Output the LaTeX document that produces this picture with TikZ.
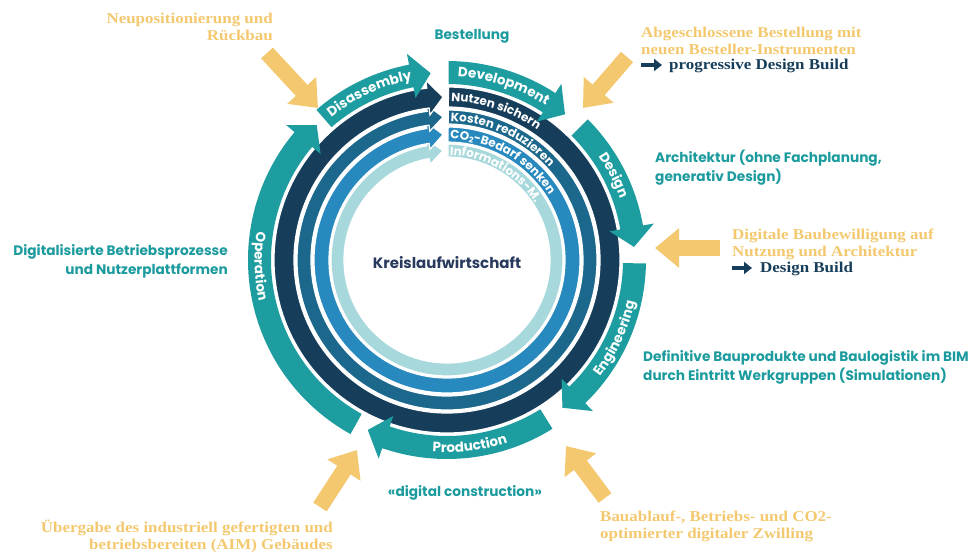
\documentclass[tikz,border=0pt]{standalone}
\usepackage{fontspec}
\usepackage{tikz}
\usetikzlibrary{arrows.meta}
\usetikzlibrary{decorations.text}
\newfontfamily\popfont{Poppins}
\newfontfamily\serfont[FakeStretch=1.13]{Liberation Serif}
\definecolor{phasecol}{RGB}{30,157,160}
\definecolor{navycol}{RGB}{22,61,90}
\definecolor{kostcol}{RGB}{28,104,140}
\definecolor{cocol}{RGB}{40,137,190}
\definecolor{infocol}{RGB}{167,216,219}
\definecolor{gelb}{RGB}{243,200,110}
\definecolor{tealtxt}{RGB}{28,155,158}
\definecolor{titlecol}{RGB}{40,58,94}
\newcommand\phasefont{\popfont\bfseries\fontsize{13.5}{13.5}\selectfont}
\newcommand\ringfont{\popfont\bfseries\fontsize{12}{12}\selectfont}
\tikzset{>=latex}
\tikzset{phase/.style = {fill=phasecol},
    ring/.style = {draw=white, line width=1.2pt},
    gelbpfeil/.style = {draw=gelb, line width=16pt, -{Triangle[length=24pt,width=38pt]}},
    navypfeil/.style = {draw=navycol, line width=4.5pt, -{Triangle[length=8pt,width=12pt]}},
    tealtext/.style = {text=tealtxt, font=\popfont\bfseries\fontsize{13.7}{19}\selectfont, inner sep=0pt},
    gelbtext/.style = {text=gelb, font=\serfont\bfseries\fontsize{15}{17}\selectfont, inner sep=0pt},
    navytext/.style = {text=navycol, font=\serfont\bfseries\fontsize{15}{17}\selectfont, inner sep=0pt}}
% ring arrow: colour, r in, r out, r mid, head in, head out, head base, tip
\newcommand\ringpfeil[8]{%
    \filldraw[ring, fill=#1] (89.5:#3pt) arc[start angle=89.5, end angle=#7-360, radius=#3pt]
        -- (#7:#6pt) -- (#8:#4pt) -- (#7:#5pt) -- (#7:#2pt)
        arc[start angle=#7-360, end angle=89.5, radius=#2pt] -- cycle;}
% phase arrow: start, head base, tip
\newcommand\phasepfeil[3]{%
    \fill[phase] (#1:199pt) arc[start angle=#1, end angle=#2, radius=199pt]
        -- (#2:210pt) -- (#3:187.5pt) -- (#2:165pt) -- (#2:176pt)
        arc[start angle=#2, end angle=#1, radius=176pt] -- cycle;}
\newcommand\bogentext[4]{%
    \path[decorate, decoration={text along path, text color=white, text align=center,
        text={|\phasefont|#1}}] (#2:#4pt) arc[start angle=#2, end angle=#3, radius=#4pt];}
\newcommand\ringtext[2]{%
    \path[decorate, decoration={text along path, text color=white,
        text={|\ringfont|#1}}] (88.5:#2pt) arc[start angle=88.5, end angle=-60, radius=#2pt];}

\begin{document}
\begin{tikzpicture}[x=1pt, y=1pt]
    \useasboundingbox (-447,-294) rectangle (524,260);

    % rings
    \ringpfeil{infocol}{103}{116}{109.5}{97}{123}{100}{92.1}
    \ringpfeil{cocol}{118}{133}{125.5}{112}{140}{98.7}{91.8}
    \ringpfeil{kostcol}{136}{150}{143}{130}{157}{97.6}{91.6}
    \ringpfeil{navycol}{153}{173}{163}{146}{181}{96.7}{91.4}

    \ringtext{Nutzen sichern}{158.5}
    \ringtext{Kosten reduzieren}{138.5}
    \ringtext{CO{\raisebox{-1.5pt}{\fontsize{8}{8}\selectfont 2}}-Bedarf senken}{121}
    \ringtext{Informations-M.}{105}

    % phases
    \phasepfeil{89.5}{57}{51}
    \phasepfeil{45}{10}{4}
    \phasepfeil{-1}{-46}{-52}
    \phasepfeil{-58}{-109}{-115}
    \phasepfeil{241}{140}{134}
    \phasepfeil{131}{101}{95}

    \bogentext{Development}{112}{32}{183.5}
    \bogentext{Design}{67}{-13}{183.5}
    \bogentext{Engineering}{-65}{15}{192.5}
    \bogentext{Production}{-123}{-43}{192.5}
    \bogentext{Operation}{142}{222}{192.5}
    \bogentext{Disassembly}{155}{75}{183.5}

    \node[text=titlecol, font=\popfont\bfseries\fontsize{15}{15}\selectfont] (kreis) at (0,-3) {Kreislaufwirtschaft};

    % teal texts
    \node[tealtext] (bestellung) at (25,224) {Bestellung};
    \node[tealtext, anchor=west, align=left] (architektur) at (208,92.5) {Architektur (ohne Fachplanung,\\generativ Design)};
    \node[tealtext, anchor=west, align=left] (definitiv) at (196,-107.5) {Definitive Bauprodukte und Baulogistik im BIM\\durch Eintritt Werkgruppen (Simulationen)};
    \node[tealtext, anchor=east, align=right] (betrieb) at (-219,-1) {Digitalisierte Betriebsprozesse\\und Nutzerplattformen};
    \node[tealtext] (construction) at (18,-233) {«digital construction»};

    % yellow texts
    \node[gelbtext, anchor=east, align=right] (rueckbau) at (-174,233) {Neupositionierung und\\Rückbau};
    \node[gelbtext, anchor=west, align=left] (bestellinstr) at (194,219.5) {Abgeschlossene Bestellung mit\\neuen Besteller-Instrumenten};
    \node[navytext, anchor=west] (pdb) at (222,194) {progressive Design Build};
    \node[gelbtext, anchor=west, align=left] (bewilligung) at (285,15.5) {Digitale Baubewilligung auf\\Nutzung und Architektur};
    \node[navytext, anchor=west] (db) at (313,-9) {Design Build};
    \node[gelbtext, anchor=east, align=right] (uebergabe) at (-114,-276.5) {Übergabe des industriell gefertigten und\\betriebsbereiten (AIM) Gebäudes};
    \node[gelbtext, anchor=west, align=left] (zwilling) at (153,-266) {Bauablauf-, Betriebs- und CO2-\\optimierter digitaler Zwilling};

    % arrows
    \coordinate (a1) at (-180,207);
    \coordinate (b1) at (-129,152);
    \coordinate (a2) at (180,203);
    \coordinate (b2) at (136,152);
    \coordinate (a3) at (273,12);
    \coordinate (b3) at (208,12);
    \coordinate (a4) at (-127,-247);
    \coordinate (b4) at (-90,-190);
    \coordinate (a5) at (158,-238);
    \coordinate (b5) at (119,-186);
    \draw[gelbpfeil] (a1) -- (b1);
    \draw[gelbpfeil] (a2) -- (b2);
    \draw[gelbpfeil] (a3) -- (b3);
    \draw[gelbpfeil] (a4) -- (b4);
    \draw[gelbpfeil] (a5) -- (b5);

    \coordinate (n1) at (194,195);
    \coordinate (m1) at (215,195);
    \coordinate (n2) at (285,-8);
    \coordinate (m2) at (305,-8);
    \draw[navypfeil] (n1) -- (m1);
    \draw[navypfeil] (n2) -- (m2);
\end{tikzpicture}
\end{document}
